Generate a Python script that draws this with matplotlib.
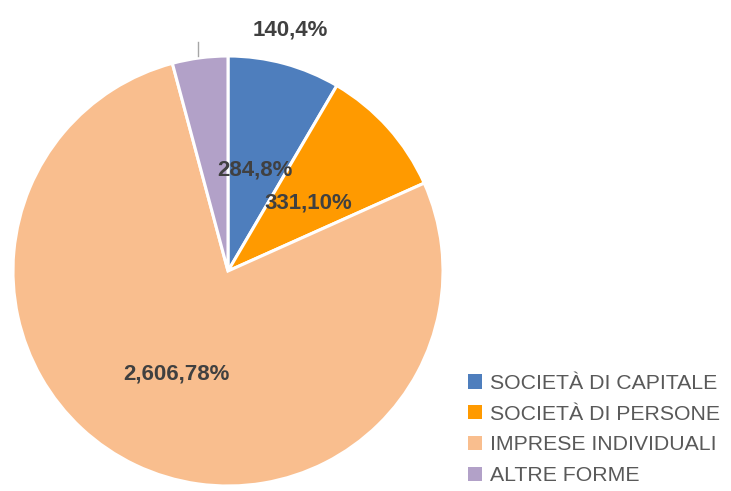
import matplotlib.pyplot as plt
from matplotlib.patches import Patch

categorie = ["SOCIETÀ DI CAPITALE", "SOCIETÀ DI PERSONE", "IMPRESE INDIVIDUALI", "ALTRE FORME"]
valori = [284, 331, 2606, 140]
percentuali = [8, 10, 78, 4]
colori = ["#4E7EBD", "#FF9A00", "#F9BE8E", "#B2A1C8"]

# label positions in pixel coords (x, y from top)
pos_etichette = [(255, 170), (308, 203), (176, 374), (290, 30)]

W, H = 731, 491
fig = plt.figure(figsize=(W / 100, H / 100), dpi=100)
ax = fig.add_axes([0, 0, 1, 1])

ax.pie(valori, colors=colori, startangle=90, counterclock=False,
       center=(228, H - 271), radius=215,
       wedgeprops=dict(edgecolor="white", linewidth=2.2))
ax.set_xlim(0, W)
ax.set_ylim(0, H)
ax.set_aspect("equal")
ax.axis("off")

for v, p, (x, y) in zip(valori, percentuali, pos_etichette):
    testo = f"{v:,},{p}%"
    ax.text(x, H - y, testo, ha="center", va="center", fontsize=16,
            fontweight="bold", color="#404040", family="Liberation Sans")

# leader line for the small slice
ax.plot([198, 198], [H - 42, H - 56], color="#A6A6A6", lw=1)

handles = [Patch(facecolor=c, edgecolor="none") for c in colori]
fig.legend(handles, categorie, loc="upper left", bbox_to_anchor=(468 / W, 1 - 374 / H),
           frameon=False, prop=dict(family="Liberation Sans", size=15.3),
           handlelength=0.65, handleheight=0.65, handletextpad=0.4,
           labelspacing=0.55, borderpad=0, borderaxespad=0, labelcolor="#595959")

fig.savefig("out.png", dpi=100)
